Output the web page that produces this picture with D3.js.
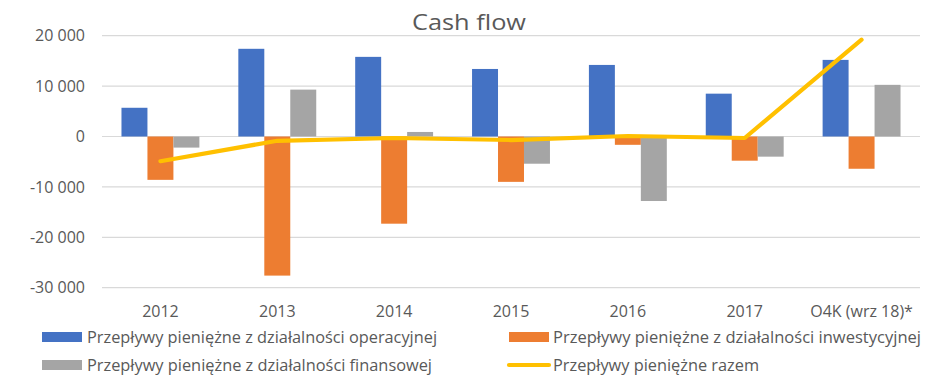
<!DOCTYPE html>
<html>
<head>
<meta charset="utf-8">
<script src="https://cdn.jsdelivr.net/npm/d3@7"></script>
<style>
  html, body { margin: 0; padding: 0; background: #fff; }
  svg { display: block; }
  text { font-family: "Open Sans", "Noto Sans", sans-serif; fill: #595959; }
</style>
</head>
<body>
<svg id="chart" width="944" height="379"></svg>
<script>
const categories = ["2012", "2013", "2014", "2015", "2016", "2017", "O4K (wrz 18)*"];
const operacyjne = [5700, 17400, 15800, 13400, 14200, 8500, 15200];
const inwestycyjne = [-8600, -27600, -17300, -9000, -1650, -4800, -6400];
const finansowe = [-2200, 9300, 900, -5400, -12800, -4000, 10250];
const razem = [-4900, -850, -300, -700, 100, -300, 19200];
const yTicks = [-30000, -20000, -10000, 0, 10000, 20000];

const seriesNames = [
  "Przepływy pieniężne z działalności operacyjnej",
  "Przepływy pieniężne z działalności inwestycyjnej",
  "Przepływy pieniężne z działalności finansowej",
  "Przepływy pieniężne razem"
];
const colors = ["#4472C4", "#ED7D31", "#A5A5A5", "#FFC000"];
const barSeries = [operacyjne, inwestycyjne, finansowe];

const svg = d3.select("#chart");
const pLeft = 102, pRight = 920, pTop = 35.7, pBottom = 287.7;

const x = d3.scaleBand().domain(categories).range([pLeft, pRight]).paddingInner(0).paddingOuter(0);
const y = d3.scaleLinear().domain([-30000, 20000]).range([pBottom, pTop]);

const barW = x.bandwidth() / 4.5;
const xs = d3.scaleBand().domain([0, 1, 2]).range([0, barW * 3]);

// gridlines
svg.append("g").selectAll("line").data(yTicks).join("line")
  .attr("x1", pLeft).attr("x2", pRight)
  .attr("y1", d => y(d)).attr("y2", d => y(d))
  .attr("stroke", "#D9D9D9").attr("stroke-width", 1.2);

// y labels
const fmt = v => d3.format(",")(v).replace(/,/g, " ").replace("−", "-");
svg.append("g").selectAll("text").data(yTicks).join("text")
  .attr("x", 85).attr("y", d => y(d)).attr("dy", "0.35em")
  .attr("text-anchor", "end").attr("font-size", 16)
  .text(d => fmt(d));

// bars
barSeries.forEach((vals, si) => {
  svg.append("g").selectAll("rect").data(vals).join("rect")
    .attr("x", (d, i) => x(categories[i]) + (x.bandwidth() - barW * 3) / 2 + xs(si))
    .attr("width", barW)
    .attr("y", d => Math.min(y(d), y(0)))
    .attr("height", d => Math.abs(y(d) - y(0)))
    .attr("fill", colors[si]);
});

// line
const line = d3.line()
  .x((d, i) => x(categories[i]) + x.bandwidth() / 2)
  .y(d => y(d));
svg.append("path").datum(razem)
  .attr("d", line).attr("fill", "none")
  .attr("stroke", colors[3]).attr("stroke-width", 4.2)
  .attr("stroke-linejoin", "round").attr("stroke-linecap", "round");

// x labels
svg.append("g").selectAll("text").data(categories).join("text")
  .attr("x", d => x(d) + x.bandwidth() / 2).attr("y", 317)
  .attr("text-anchor", "middle").attr("font-size", 16)
  .text(d => d);

// title
svg.append("text").attr("x", 469).attr("y", 30)
  .attr("text-anchor", "middle").attr("font-size", 22)
  .attr("textLength", 114).attr("lengthAdjust", "spacingAndGlyphs")
  .text("Cash flow");

// legend
const legend = [
  { i: 0, sx: 42, tx: 87, y: 337, w: 350, type: "rect" },
  { i: 1, sx: 509, tx: 553, y: 337, w: 368, type: "rect" },
  { i: 2, sx: 42, tx: 87, y: 365, w: 345, type: "rect" },
  { i: 3, sx: 509, tx: 553, y: 365, w: 206, type: "line" }
];
const lg = svg.append("g");
legend.forEach(l => {
  if (l.type === "rect") {
    lg.append("rect").attr("x", l.sx).attr("y", l.y - 5).attr("width", 40).attr("height", 10).attr("fill", colors[l.i]);
  } else {
    lg.append("line").attr("x1", l.sx).attr("x2", l.sx + 40).attr("y1", l.y).attr("y2", l.y)
      .attr("stroke", colors[l.i]).attr("stroke-width", 4.2).attr("stroke-linecap", "round");
  }
  lg.append("text").attr("x", l.tx).attr("y", l.y).attr("dy", "0.35em")
    .attr("font-size", 16).attr("textLength", l.w).attr("lengthAdjust", "spacingAndGlyphs")
    .text(seriesNames[l.i]);
});
</script>
</body>
</html>
